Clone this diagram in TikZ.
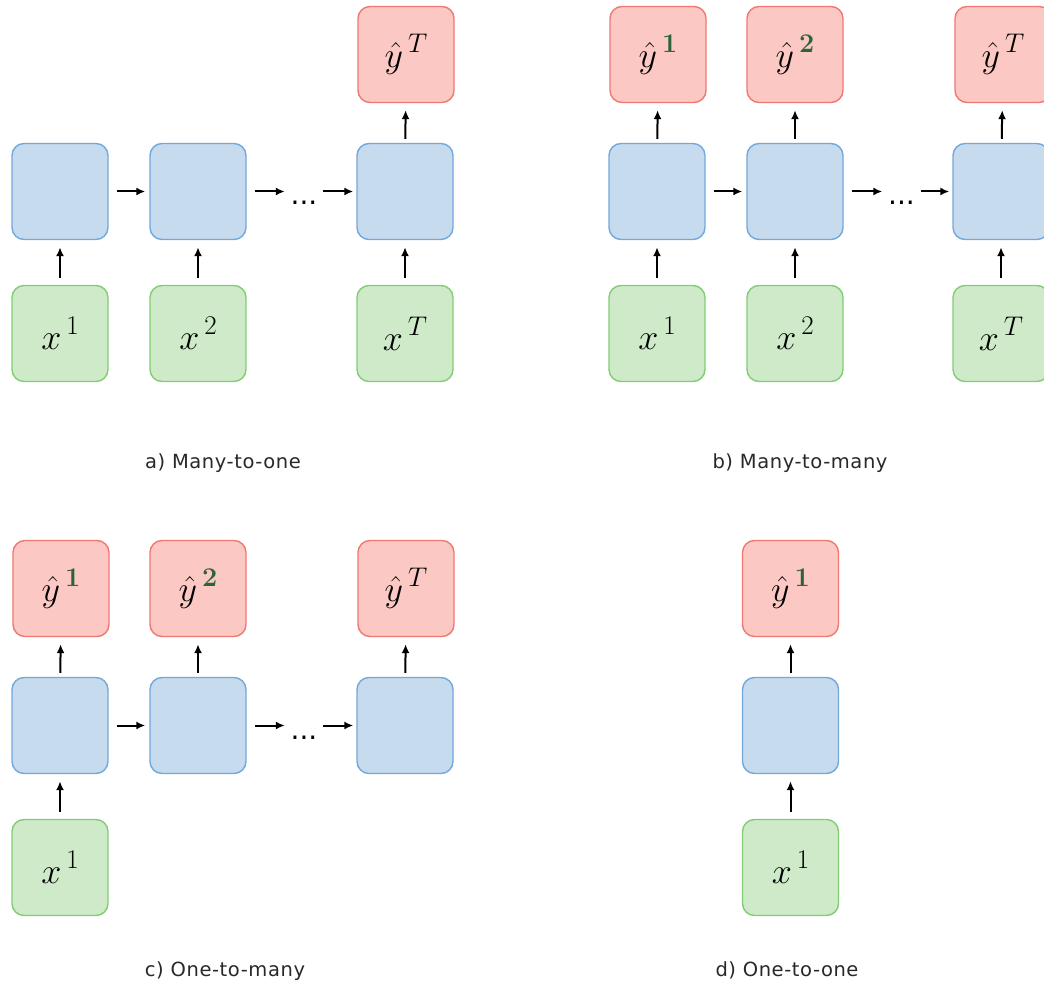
\RequirePackage{fix-cm}
\documentclass[tikz,border=0pt]{standalone}
\usepackage[no-math]{fontspec}
\usetikzlibrary{arrows.meta}
\newfontfamily\labfont[LetterSpace=3]{DejaVu Sans}
\newfontfamily\dotfont{DejaVu Sans}
\definecolor{hidf}{RGB}{198,219,238}
\definecolor{hidb}{RGB}{115,168,218}
\definecolor{inf}{RGB}{206,234,200}
\definecolor{inb}{RGB}{130,205,115}
\definecolor{outf}{RGB}{252,200,196}
\definecolor{outb}{RGB}{240,120,115}
\definecolor{supg}{RGB}{45,100,55}
\definecolor{labc}{RGB}{40,40,40}
\newcommand{\supx}[1]{\hspace{5pt}\raisebox{15pt}{\fontsize{27}{27}\selectfont$#1$}}
\newcommand{\gs}[1]{\textcolor{supg}{\mathbf{#1}}}
\tikzset{
  cell/.style={rounded corners=12pt, minimum width=96pt, minimum height=96pt, inner sep=0pt, line width=1.4pt, font=\fontsize{36}{40}\selectfont},
  hid/.style={cell, draw=hidb, fill=hidf},
  inp/.style={cell, draw=inb, fill=inf},
  outp/.style={cell, draw=outb, fill=outf},
  arr/.style={-{Latex[length=9pt,width=8pt]}, line width=2pt},
  inarr/.style={arr, shorten <=7pt, shorten >=7pt},
  outarr/.style={arr, shorten <=4pt, shorten >=7pt},
  harr/.style={arr, shorten <=8pt, shorten >=4pt},
  todots/.style={arr, shorten <=8pt},
  fromdots/.style={arr, shorten >=3pt},
  dotsnode/.style={inner sep=0pt, minimum width=38pt, minimum height=2pt},
  lab/.style={font=\labfont\fontsize{19.5}{22}\selectfont, text=labc, inner sep=0pt},
}
\newcommand{\hdots}{\raisebox{-13.5pt}[0pt][0pt]{\dotfont\fontsize{28}{30}\selectfont ...}}
\begin{document}
\begin{tikzpicture}[x=1pt,y=-1pt]
\useasboundingbox (0,0) rectangle (1044,984);
\clip (0,0) rectangle (1044,984);
% ---------- a) Many-to-one
\node[hid] (a1) at (60,191.5) {};
\node[hid] (a2) at (198,191.5) {};
\node[hid] (a3) at (405,191.5) {};
\node[dotsnode] (ad) at (304,191.5) {\hdots};
\node[inp] (ax1) at (60,333.5) {$x\supx{1}$};
\node[inp] (ax2) at (198,333.5) {$x\supx{2}$};
\node[inp] (ax3) at (405,333.5) {$x\supx{T}$};
\node[outp] (ay3) at (406,54.5) {$\hat{y}\supx{T}$};
\draw[harr] (a1) -- (a2);
\draw[todots] (a2) -- (ad);
\draw[fromdots] (ad) -- (a3);
\draw[inarr] (ax1) -- (a1);
\draw[inarr] (ax2) -- (a2);
\draw[inarr] (ax3) -- (a3);
\draw[outarr] (a3) -- (ay3);
\node[lab] (la) at (223,463) {a) Many-to-one};
% ---------- b) Many-to-many
\node[hid] (b1) at (657,191.5) {};
\node[hid] (b2) at (795,191.5) {};
\node[hid] (b3) at (1001,191.5) {};
\node[dotsnode] (bd) at (901.5,191.5) {\hdots};
\node[inp] (bx1) at (657,333.5) {$x\supx{1}$};
\node[inp] (bx2) at (795,333.5) {$x\supx{2}$};
\node[inp] (bx3) at (1001,333.5) {$x\supx{T}$};
\node[outp] (by1) at (658,54.5) {$\hat{y}\supx{\gs{1}}$};
\node[outp] (by2) at (795,54.5) {$\hat{y}\supx{\gs{2}}$};
\node[outp] (by3) at (1003,54.5) {$\hat{y}\supx{T}$};
\draw[harr] (b1) -- (b2);
\draw[todots] (b2) -- (bd);
\draw[fromdots] (bd) -- (b3);
\draw[inarr] (bx1) -- (b1);
\draw[inarr] (bx2) -- (b2);
\draw[inarr] (bx3) -- (b3);
\draw[outarr] (b1) -- (by1);
\draw[outarr] (b2) -- (by2);
\draw[outarr] (b3) -- (by3);
\node[lab] (lb) at (800,463) {b) Many-to-many};
% ---------- c) One-to-many
\node[hid] (c1) at (60,725.5) {};
\node[hid] (c2) at (198,725.5) {};
\node[hid] (c3) at (405,725.5) {};
\node[dotsnode] (cd) at (304,725.5) {\hdots};
\node[inp] (cx1) at (60,867.5) {$x\supx{1}$};
\node[outp] (cy1) at (61,588.5) {$\hat{y}\supx{\gs{1}}$};
\node[outp] (cy2) at (198,588.5) {$\hat{y}\supx{\gs{2}}$};
\node[outp] (cy3) at (406,588.5) {$\hat{y}\supx{T}$};
\draw[harr] (c1) -- (c2);
\draw[todots] (c2) -- (cd);
\draw[fromdots] (cd) -- (c3);
\draw[inarr] (cx1) -- (c1);
\draw[outarr] (c1) -- (cy1);
\draw[outarr] (c2) -- (cy2);
\draw[outarr] (c3) -- (cy3);
\node[lab] (lc) at (225,971) {c) One-to-many};
% ---------- d) One-to-one
\node[hid] (d1) at (790.5,725.5) {};
\node[inp] (dx1) at (790.5,867.5) {$x\supx{1}$};
\node[outp] (dy1) at (790.5,588.5) {$\hat{y}\supx{\gs{1}}$};
\draw[inarr] (dx1) -- (d1);
\draw[outarr] (d1) -- (dy1);
\node[lab] (ld) at (787,970) {d) One-to-one};
\end{tikzpicture}
\end{document}
